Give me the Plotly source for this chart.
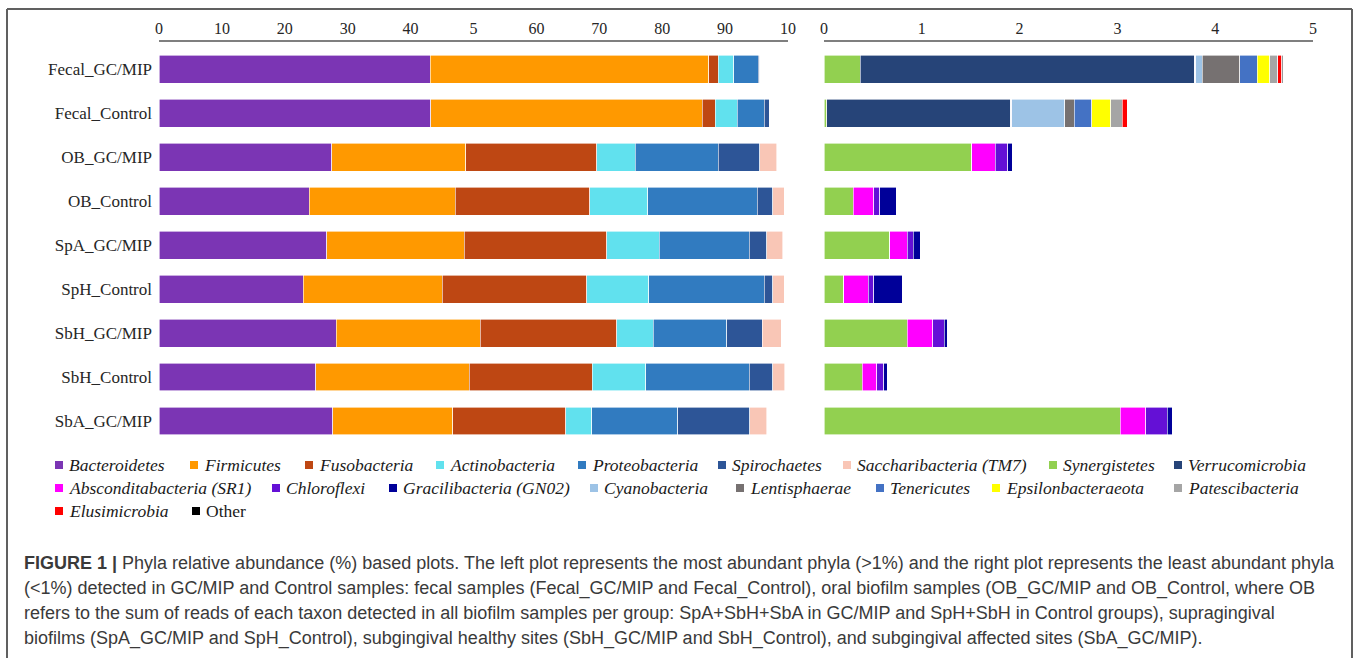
import plotly.graph_objects as go

# ---------------------------------------------------------------- data
samples = ["Fecal_GC/MIP", "Fecal_Control", "OB_GC/MIP", "OB_Control", "SpA_GC/MIP",
           "SpH_Control", "SbH_GC/MIP", "SbH_Control", "SbA_GC/MIP"]

# most abundant phyla (>1%), relative abundance (%)
bacteroidetes = [43.1, 43.2, 27.5, 23.9, 26.7, 22.9, 28.2, 24.9, 27.6]
firmicutes = [44.3, 43.2, 21.3, 23.2, 21.8, 22.1, 22.9, 24.4, 19.1]
fusobacteria = [1.5, 2.0, 20.8, 21.4, 22.7, 23.0, 21.7, 19.6, 18.0]
actinobacteria = [2.5, 3.5, 6.1, 9.2, 8.3, 9.9, 5.8, 8.5, 4.1]
proteobacteria = [3.9, 4.3, 13.2, 17.4, 14.3, 18.3, 11.7, 16.4, 13.7]
spirochaetes = [0.2, 0.8, 6.6, 2.5, 2.8, 1.4, 5.6, 3.8, 11.4]
saccharibacteria = [0.0, 0.0, 2.7, 1.8, 2.6, 1.8, 3.0, 1.9, 2.7]

# least abundant phyla (<1%), relative abundance (%)
synergistetes = [0.37, 0.03, 1.51, 0.30, 0.67, 0.20, 0.85, 0.39, 3.03]
verrucomicrobia = [3.42, 1.88, 0, 0, 0, 0, 0, 0, 0]
absconditabacteria = [0, 0, 0.24, 0.21, 0.18, 0.25, 0.26, 0.15, 0.26]
chloroflexi = [0.01, 0.01, 0.13, 0.06, 0.06, 0.06, 0.12, 0.07, 0.22]
gracilibacteria = [0, 0, 0.05, 0.17, 0.08, 0.29, 0.03, 0.04, 0.05]
cyanobacteria = [0.07, 0.54, 0, 0, 0, 0, 0, 0, 0]
lentisphaerae = [0.38, 0.10, 0, 0, 0, 0, 0, 0, 0]
tenericutes = [0.18, 0.18, 0, 0, 0, 0, 0, 0, 0]
epsilonbacteraeota = [0.13, 0.19, 0, 0, 0, 0, 0, 0, 0]
patescibacteria = [0.08, 0.12, 0, 0, 0, 0, 0, 0, 0]
elusimicrobia = [0.04, 0.05, 0, 0, 0, 0, 0, 0, 0]
other = [0.01, 0, 0, 0, 0, 0, 0, 0, 0]

left_tickvals = [0, 10, 20, 30, 40, 50, 60, 70, 80, 90, 100]
left_ticktext = ["0", "10", "20", "30", "40", "5", "60", "70", "80", "90", "10"]
right_tickvals = [0, 1, 2, 3, 4, 5]
right_ticktext = ["0", "1", "2", "3", "4", "5"]

# (name, values, colour)
major = [
    ("Bacteroidetes", bacteroidetes, "#7B35B4"),
    ("Firmicutes", firmicutes, "#FF9900"),
    ("Fusobacteria", fusobacteria, "#BE4713"),
    ("Actinobacteria", actinobacteria, "#61E1EE"),
    ("Proteobacteria", proteobacteria, "#317BC0"),
    ("Spirochaetes", spirochaetes, "#2D5597"),
    ("Saccharibacteria (TM7)", saccharibacteria, "#F9C6B6"),
]
minor = [
    ("Synergistetes", synergistetes, "#92D050"),
    ("Verrucomicrobia", verrucomicrobia, "#264478"),
    ("Absconditabacteria (SR1)", absconditabacteria, "#FF00FF"),
    ("Chloroflexi", chloroflexi, "#6410D6"),
    ("Gracilibacteria (GN02)", gracilibacteria, "#000099"),
    ("Cyanobacteria", cyanobacteria, "#9DC3E6"),
    ("Lentisphaerae", lentisphaerae, "#767171"),
    ("Tenericutes", tenericutes, "#4472C4"),
    ("Epsilonbacteraeota", epsilonbacteraeota, "#FFFF00"),
    ("Patescibacteria", patescibacteria, "#A5A5A5"),
    ("Elusimicrobia", elusimicrobia, "#FF0000"),
    ("Other", other, "#000000"),
]

caption_lines = [
    "<b>FIGURE 1 |</b> Phyla relative abundance (%) based plots. The left plot represents the most "
    "abundant phyla (&gt;1%) and the right plot represents the least abundant phyla",
    "(&lt;1%) detected in GC/MIP and Control samples: fecal samples (Fecal_GC/MIP and Fecal_Control), "
    "oral biofilm samples (OB_GC/MIP and OB_Control, where OB",
    "refers to the sum of reads of each taxon detected in all biofilm samples per group: SpA+SbH+SbA "
    "in GC/MIP and SpH+SbH in Control groups), supragingival",
    "biofilms (SpA_GC/MIP and SpH_Control), subgingival healthy sites (SbH_GC/MIP and SbH_Control), "
    "and subgingival affected sites (SbA_GC/MIP).",
]

# ---------------------------------------------------------------- layout helpers
W, H = 1357, 658
SERIF = "Liberation Serif, Times New Roman, serif"
SANS = "Liberation Sans, Arial, sans-serif"


def fx(px):
    return px / W


def fy(py):
    return 1 - py / H


fig = go.Figure()

for name, vals, col in major:
    fig.add_trace(go.Bar(
        y=samples, x=vals, name=name, orientation="h",
        marker=dict(color=col, line=dict(color="white", width=0.6)),
        xaxis="x", yaxis="y", showlegend=False))

for name, vals, col in minor:
    fig.add_trace(go.Bar(
        y=samples, x=vals, name=name, orientation="h",
        marker=dict(color=col, line=dict(color="white", width=0.6)),
        xaxis="x2", yaxis="y2", showlegend=False))

y_dom = [fy(443), fy(42)]
y_rng = [8.5, -0.614]
axis_line = "#7F7F7F"

fig.update_layout(
    width=W, height=H,
    margin=dict(l=0, r=0, t=0, b=0),
    paper_bgcolor="white", plot_bgcolor="white",
    barmode="stack", bargap=0.364,
    showlegend=False,
    xaxis=dict(domain=[fx(159), fx(788)], range=[0, 100], side="top", anchor="y",
               showline=True, linecolor=axis_line, linewidth=1.5, showgrid=False,
               zeroline=False, ticks="", tickvals=left_tickvals, ticktext=left_ticktext,
               tickfont=dict(family=SERIF, size=16, color="#262626"), automargin=False,
               fixedrange=True),
    yaxis=dict(domain=y_dom, range=y_rng, type="category", categoryorder="array",
               categoryarray=samples, anchor="x", showline=False, showgrid=False,
               zeroline=False, ticks="", ticklabelstandoff=6,
               tickfont=dict(family=SERIF, size=17, color="#262626"), automargin=False,
               fixedrange=True),
    xaxis2=dict(domain=[fx(824), fx(1313)], range=[0, 5], side="top", anchor="y2",
                showline=True, linecolor=axis_line, linewidth=1.5, showgrid=False,
                zeroline=False, ticks="", tickvals=right_tickvals, ticktext=right_ticktext,
                tickfont=dict(family=SERIF, size=16, color="#262626"), automargin=False,
                fixedrange=True),
    yaxis2=dict(domain=y_dom, range=y_rng, type="category", categoryorder="array",
                categoryarray=samples, anchor="x2", showline=False, showgrid=False,
                zeroline=False, showticklabels=False, automargin=False, fixedrange=True),
)

# ---------------------------------------------------------------- frame
frame = dict(color="#606060", width=2)
shapes = [
    dict(type="line", xref="paper", yref="paper", x0=fx(7), x1=fx(1352), y0=fy(9), y1=fy(9), line=frame),
    dict(type="line", xref="paper", yref="paper", x0=fx(7), x1=fx(7), y0=fy(9), y1=fy(700), line=frame),
    dict(type="line", xref="paper", yref="paper", x0=fx(1352), x1=fx(1352), y0=fy(9), y1=fy(700), line=frame),
]

# ---------------------------------------------------------------- legend
legend_rows = [
    (465, [("Bacteroidetes", 55), ("Firmicutes", 190), ("Fusobacteria", 305),
           ("Actinobacteria", 436), ("Proteobacteria", 578), ("Spirochaetes", 718),
           ("Saccharibacteria (TM7)", 843), ("Synergistetes", 1049), ("Verrucomicrobia", 1174)]),
    (488, [("Absconditabacteria (SR1)", 55), ("Chloroflexi", 272), ("Gracilibacteria (GN02)", 389),
           ("Cyanobacteria", 590), ("Lentisphaerae", 736), ("Tenericutes", 876),
           ("Epsilonbacteraeota", 992), ("Patescibacteria", 1174)]),
    (511, [("Elusimicrobia", 55), ("Other", 192)]),
]
colours = {n: c for n, _, c in major + minor}

annotations = []
for yc, items in legend_rows:
    for name, xm in items:
        shapes.append(dict(type="rect", xref="paper", yref="paper",
                           x0=fx(xm), x1=fx(xm + 8), y0=fy(yc + 4), y1=fy(yc - 4),
                           fillcolor=colours[name], line=dict(width=0)))
        label = name if name == "Other" else f"<i>{name}</i>"
        annotations.append(dict(xref="paper", yref="paper", x=fx(xm + 12), y=fy(yc),
                                xanchor="left", yanchor="middle", showarrow=False,
                                text=label, font=dict(family=SERIF, size=17.5, color="#1a1a1a")))

# ---------------------------------------------------------------- caption
for i, line in enumerate(caption_lines):
    annotations.append(dict(xref="paper", yref="paper", x=fx(22), y=fy(563 + 25 * i),
                            xanchor="left", yanchor="middle", showarrow=False, text=line,
                            font=dict(family=SANS, size=18, color="#3a3a3a")))

fig.update_layout(shapes=shapes, annotations=annotations)

fig.write_html("out.html")
